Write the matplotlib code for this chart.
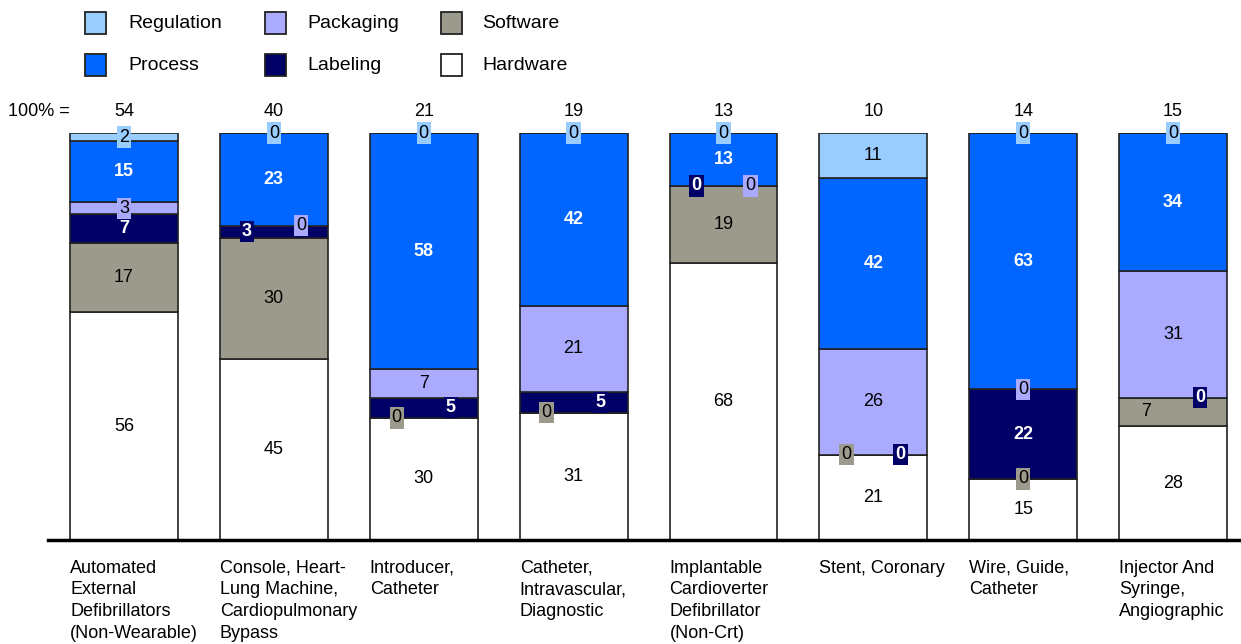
import matplotlib
matplotlib.use('Agg')
import matplotlib.pyplot as plt
from matplotlib.patches import Rectangle
import numpy as np

plt.rcParams['font.family'] = ['Liberation Sans', 'DejaVu Sans']

categories = ["Automated\nExternal\nDefibrillators\n(Non-Wearable)",
              "Console, Heart-\nLung Machine,\nCardiopulmonary\nBypass",
              "Introducer,\nCatheter",
              "Catheter,\nIntravascular,\nDiagnostic",
              "Implantable\nCardioverter\nDefibrillator\n(Non-Crt)",
              "Stent, Coronary",
              "Wire, Guide,\nCatheter",
              "Injector And\nSyringe,\nAngiographic"]
totals = [54, 40, 21, 19, 13, 10, 14, 15]
hardware = [56, 45, 30, 31, 68, 21, 15, 28]
software = [17, 30, 0, 0, 19, 0, 0, 7]
labeling = [7, 3, 5, 5, 0, 0, 22, 0]
packaging = [3, 0, 7, 21, 0, 26, 0, 31]
process = [15, 23, 58, 42, 13, 42, 63, 34]
regulation = [2, 0, 0, 0, 0, 11, 0, 0]

series_names = ["Hardware", "Software", "Labeling", "Packaging", "Process", "Regulation"]
series_vals = [hardware, software, labeling, packaging, process, regulation]
colors = {"Hardware": "#FFFFFF", "Software": "#9C9A8C", "Labeling": "#000066",
          "Packaging": "#AAAAFF", "Process": "#0066FF", "Regulation": "#99CCFF"}
text_colors = {"Hardware": "black", "Software": "black", "Labeling": "white",
               "Packaging": "black", "Process": "white", "Regulation": "black"}
text_weight = {"Hardware": "normal", "Software": "normal", "Labeling": "bold",
               "Packaging": "normal", "Process": "bold", "Regulation": "normal"}
# horizontal label shifts (fraction of bar width) to avoid overlaps
label_shift = {(1, "Labeling"): -0.25, (1, "Packaging"): 0.25,
               (2, "Software"): -0.25, (2, "Labeling"): 0.25,
               (3, "Software"): -0.25, (3, "Labeling"): 0.25,
               (4, "Labeling"): -0.25, (4, "Packaging"): 0.25,
               (5, "Software"): -0.25, (5, "Labeling"): 0.25,
               (7, "Software"): -0.25, (7, "Labeling"): 0.25}

W, H = 1241, 644
fig = plt.figure(figsize=(W / 100, H / 100), dpi=100)
ax = fig.add_axes([48 / W, (H - 540) / H, 1 - 48 / W, (540 - 133) / H])

n = len(categories)
x = np.arange(n)
bw = 0.72
data = np.array(series_vals, dtype=float)
sums = data.sum(axis=0)
norm = data / sums * 100
bottom = np.zeros(n)
for si, name in enumerate(series_names):
    ax.bar(x, norm[si], bw, bottom=bottom, color=colors[name],
           edgecolor='#222222', linewidth=1.2, zorder=2)
    for i in range(n):
        yc = bottom[i] + norm[si][i] / 2
        dx = label_shift.get((i, name), 0) * bw
        ax.text(x[i] + dx, yc, str(series_vals[si][i]), ha='center', va='center',
                fontsize=13, color=text_colors[name], fontweight=text_weight[name],
                bbox=dict(boxstyle='square,pad=0.12', facecolor=colors[name],
                          edgecolor='none'), zorder=5)
    bottom += norm[si]

ax.set_xlim(-0.507, 7.453)
ax.set_ylim(0, 100)
for s in ['top', 'left', 'right']:
    ax.spines[s].set_visible(False)
ax.spines['bottom'].set_linewidth(2.5)
ax.spines['bottom'].set_color('black')
ax.spines['bottom'].set_zorder(6)
ax.set_xticks([])
ax.set_yticks([])
ax.patch.set_visible(False)

for i in range(n):
    ax.text(x[i], 105.2, str(totals[i]), ha='center', va='center', fontsize=13,
            clip_on=False)
    ax.text(x[i] - bw / 2, -4.8, categories[i], ha='left', va='top', fontsize=13,
            linespacing=1.36, clip_on=False)
ax.text(-0.507 + (70 - 48) / 150, 105.2, "100% =", ha='right', va='center',
        fontsize=13, clip_on=False)

# legend
leg_rows = [["Regulation", "Packaging", "Software"], ["Process", "Labeling", "Hardware"]]
col_sq = [85, 265, 441]
col_tx = [128, 307, 482]
row_y = [23, 65]
sq = 21
for r, row in enumerate(leg_rows):
    for c, name in enumerate(row):
        fig.patches.append(Rectangle(((col_sq[c]) / W, (H - row_y[r] - sq / 2) / H),
                                     sq / W, sq / H, transform=fig.transFigure,
                                     facecolor=colors[name], edgecolor='#222222',
                                     linewidth=1.3))
        fig.text(col_tx[c] / W, (H - row_y[r]) / H, name, ha='left', va='center',
                 fontsize=14)

fig.savefig('out.png', dpi=100)
